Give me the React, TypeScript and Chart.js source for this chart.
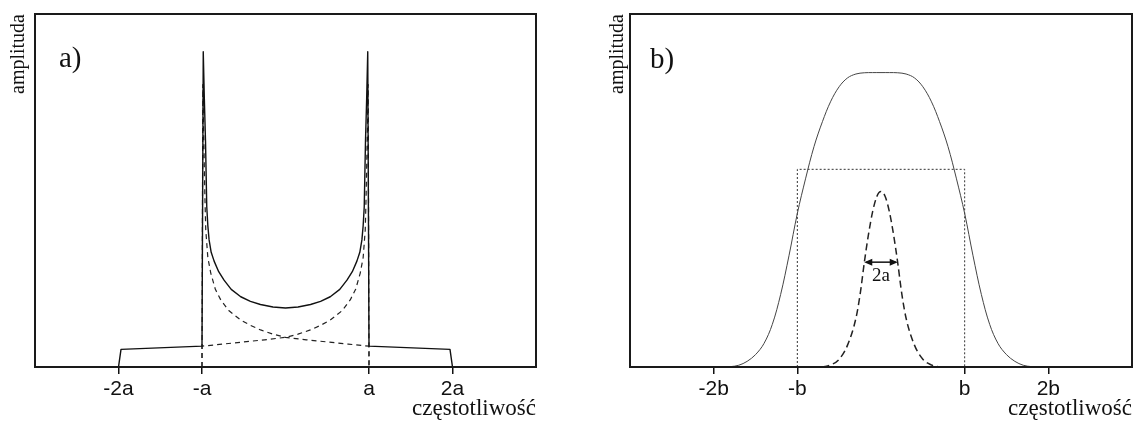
import React, { useEffect, useRef } from "react";
import { Chart, registerables } from "chart.js";

Chart.register(...registerables);

const SERIF = "'Liberation Serif', 'Times New Roman', serif";
const SANS = "'Liberation Sans', Arial, sans-serif";

// ---------- Panel a ----------
const aTickValues = [-2, -1, 1, 2];
const aTickLabels = ["-2a", "-a", "a", "2a"];

const aSolidX = [-2, -1.97, -1, -0.985, -0.972, -0.958, -0.943, -0.93, -0.915, -0.89, -0.855, -0.8, -0.736, -0.65, -0.536, -0.42, -0.3, -0.15, 0, 0.15, 0.3, 0.42, 0.536, 0.65, 0.736, 0.8, 0.855, 0.89, 0.915, 0.93, 0.943, 0.958, 0.972, 0.985, 1, 1.97, 2];
const aSolidY = [0, 5.0, 5.9, 89.3, 76, 64, 45.4, 40, 36, 32.5, 30, 27, 24.6, 22, 19.9, 18.6, 17.7, 17.0, 16.7, 17.0, 17.7, 18.6, 19.9, 22, 24.6, 27, 30, 32.5, 36, 40, 45.4, 64, 76, 89.3, 5.9, 5.0, 0];

const aDashLX = [-1, -0.99, -0.975, -0.965, -0.955, -0.93, -0.895, -0.84, -0.775, -0.68, -0.536, -0.42, -0.298, -0.15, 0, 0.25, 0.5, 0.75, 1, 1];
const aDashLY = [0, 80, 60, 48, 38.8, 31, 26.6, 22, 19.0, 16, 13.3, 11.8, 10.5, 9.3, 8.4, 7.7, 7.1, 6.5, 5.9, 0];

const aDashRX = [-1, -1, -0.75, -0.5, -0.25, 0, 0.15, 0.298, 0.42, 0.536, 0.68, 0.775, 0.84, 0.895, 0.93, 0.955, 0.965, 0.975, 0.99, 1];
const aDashRY = [0, 5.9, 6.5, 7.1, 7.7, 8.4, 9.3, 10.5, 11.8, 13.3, 16, 19.0, 22, 26.6, 31, 38.8, 48, 60, 80, 0];

// ---------- Panel b ----------
const bTickValues = [-2, -1, 1, 2];
const bTickLabels = ["-2b", "-b", "b", "2b"];

const bSolidX = [-2, -1.9, -1.8, -1.7, -1.6, -1.5, -1.4, -1.3, -1.2, -1.1, -1.0, -0.9, -0.8, -0.7, -0.6, -0.5, -0.4, -0.3, -0.2, -0.1, 0, 0.1, 0.2, 0.3, 0.4, 0.5, 0.6, 0.7, 0.8, 0.9, 1.0, 1.1, 1.2, 1.3, 1.4, 1.5, 1.6, 1.7, 1.8, 1.9, 2];
const bSolidY = [0, 0, 0.1, 0.5, 1.6, 3.5, 6.6, 12.0, 20.5, 31.5, 43.5, 53.5, 62.5, 69.5, 75.3, 79.4, 81.9, 83.0, 83.35, 83.4, 83.4, 83.4, 83.35, 83.0, 81.9, 79.4, 75.3, 69.5, 62.5, 53.5, 43.5, 31.5, 20.5, 12.0, 6.6, 3.5, 1.6, 0.5, 0.1, 0, 0];

const bRectX = [-1, -1, 1, 1];
const bRectY = [0, 56, 56, 0];

const bGaussX = [-0.7, -0.6, -0.5, -0.4, -0.3, -0.25, -0.2, -0.15, -0.1, -0.05, 0, 0.05, 0.1, 0.15, 0.2, 0.25, 0.3, 0.4, 0.5, 0.6, 0.7];
const bGaussY = [0, 0.6, 2.2, 6.2, 13.8, 20.5, 29.5, 37.5, 44.0, 48.3, 49.7, 48.3, 44.0, 37.5, 29.5, 20.5, 13.8, 6.2, 2.2, 0.6, 0];

const bArrowX = [-0.2, 0.2];
const bArrowY = 29.7;
const bArrowLabel = "2a";

const xTitle = "częstotliwość";
const yTitle = "amplituda";

function pts(xs: number[], ys: number[]) {
  return xs.map((x, i) => ({ x, y: ys[i] }));
}

type Arrow = { x: number[]; y: number; label: string } | null;

function makeDecor(label: string, dx: number, dy: number, arrow: Arrow) {
  return {
    id: "decor",
    afterDatasetsDraw(chart: any) {
      const { ctx, chartArea: ca, scales } = chart;
      ctx.save();
      ctx.setLineDash([]);
      ctx.strokeStyle = "#1a1a1a";
      ctx.lineWidth = 2;
      ctx.strokeRect(ca.left, ca.top, ca.right - ca.left, ca.bottom - ca.top);
      ctx.fillStyle = "#111";
      ctx.font = `29px ${SERIF}`;
      ctx.textAlign = "left";
      ctx.textBaseline = "alphabetic";
      ctx.fillText(label, ca.left + dx, ca.top + dy);
      if (arrow) {
        const x1 = scales.x.getPixelForValue(arrow.x[0]);
        const x2 = scales.x.getPixelForValue(arrow.x[1]);
        const y = scales.y.getPixelForValue(arrow.y);
        ctx.strokeStyle = "#111";
        ctx.lineWidth = 1.5;
        ctx.beginPath();
        ctx.moveTo(x1 + 2, y);
        ctx.lineTo(x2 - 2, y);
        ctx.stroke();
        ctx.beginPath();
        ctx.moveTo(x1, y);
        ctx.lineTo(x1 + 8, y - 3.5);
        ctx.lineTo(x1 + 8, y + 3.5);
        ctx.closePath();
        ctx.moveTo(x2, y);
        ctx.lineTo(x2 - 8, y - 3.5);
        ctx.lineTo(x2 - 8, y + 3.5);
        ctx.closePath();
        ctx.fill();
        ctx.font = `19px ${SERIF}`;
        ctx.textAlign = "center";
        ctx.fillText(arrow.label, (x1 + x2) / 2, y + 19);
      }
      ctx.restore();
    },
  };
}

function makeConfig(
  datasets: any[],
  tickValues: number[],
  tickLabels: string[],
  padding: { left: number; right: number },
  yWidth: number,
  label: string,
  ldx: number,
  ldy: number,
  arrow: Arrow
): any {
  return {
    type: "line",
    data: { datasets },
    options: {
      animation: false,
      responsive: false,
      layout: { padding: { left: padding.left, right: padding.right, top: 14, bottom: 0 } },
      plugins: { legend: { display: false }, tooltip: { enabled: false } },
      elements: { point: { radius: 0 } },
      scales: {
        x: {
          type: "linear",
          min: -3,
          max: 3,
          afterBuildTicks: (s: any) => {
            s.ticks = tickValues.map((v) => ({ value: v }));
          },
          ticks: {
            callback: (v: number) => {
              const i = tickValues.indexOf(v);
              return i >= 0 ? tickLabels[i] : "";
            },
            font: { family: SANS, size: 21 },
            color: "#111",
            padding: 3,
            maxRotation: 0,
            autoSkip: false,
          },
          grid: { display: true, drawOnChartArea: false, drawTicks: true, tickLength: 7, color: "#111", lineWidth: 1.5 },
          border: { display: false },
          title: {
            display: true,
            text: xTitle,
            align: "end",
            font: { family: SERIF, size: 23 },
            color: "#111",
            padding: { top: 0, bottom: 0 },
          },
          afterFit: (s: any) => {
            s.height = 56;
          },
        },
        y: {
          type: "linear",
          min: 0,
          max: 100,
          ticks: { display: false },
          grid: { display: false },
          border: { display: false },
          title: {
            display: true,
            text: yTitle,
            align: "end",
            font: { family: SERIF, size: 20 },
            color: "#111",
            padding: { top: 7, bottom: 0 },
          },
          afterFit: (s: any) => {
            s.width = yWidth;
          },
        },
      },
    },
    plugins: [makeDecor(label, ldx, ldy, arrow)],
  };
}

function useChart(ref: React.RefObject<HTMLCanvasElement | null>, build: () => any) {
  useEffect(() => {
    if (!ref.current) return;
    const chart = new Chart(ref.current, build());
    return () => chart.destroy();
  }, []);
}

export default function App() {
  const refA = useRef<HTMLCanvasElement | null>(null);
  const refB = useRef<HTMLCanvasElement | null>(null);

  useChart(refA, () =>
    makeConfig(
      [
        {
          data: pts(aSolidX, aSolidY),
          borderColor: "#111",
          borderWidth: 1.4,
          tension: 0,
          borderJoinStyle: "round",
          fill: false,
        },
        {
          data: pts(aDashLX, aDashLY),
          borderColor: "#222",
          borderWidth: 1.2,
          borderDash: [5, 4],
          tension: 0,
          borderJoinStyle: "round",
          fill: false,
        },
        {
          data: pts(aDashRX, aDashRY),
          borderColor: "#222",
          borderWidth: 1.2,
          borderDash: [5, 4],
          tension: 0,
          borderJoinStyle: "round",
          fill: false,
        },
      ],
      aTickValues,
      aTickLabels,
      { left: 0, right: 32 },
      35,
      "a)",
      24,
      53,
      null
    )
  );

  useChart(refB, () =>
    makeConfig(
      [
        {
          data: pts(bSolidX, bSolidY),
          borderColor: "#444",
          borderWidth: 1,
          tension: 0.35,
          fill: false,
        },
        {
          data: pts(bRectX, bRectY),
          borderColor: "#333",
          borderWidth: 1,
          borderDash: [2, 2],
          tension: 0,
          fill: false,
        },
        {
          data: pts(bGaussX, bGaussY),
          borderColor: "#222",
          borderWidth: 1.5,
          borderDash: [7, 4],
          cubicInterpolationMode: "monotone",
          fill: false,
        },
      ],
      bTickValues,
      bTickLabels,
      { left: 31, right: 4 },
      31,
      "b)",
      20,
      54,
      { x: bArrowX, y: bArrowY, label: bArrowLabel }
    )
  );

  return (
    <div style={{ position: "absolute", left: 0, top: 0, width: 1136, height: 423, background: "#fff" }}>
      <canvas ref={refA} width={568} height={423} style={{ position: "absolute", left: 0, top: 0, width: 568, height: 423 }} />
      <canvas ref={refB} width={568} height={423} style={{ position: "absolute", left: 568, top: 0, width: 568, height: 423 }} />
    </div>
  );
}
